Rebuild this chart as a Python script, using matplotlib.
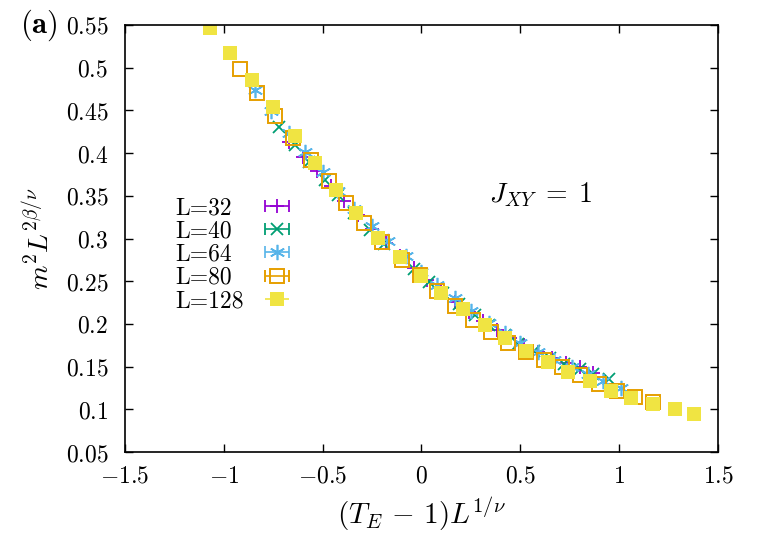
import numpy as np
import matplotlib
matplotlib.use('Agg')
import matplotlib.pyplot as plt
from matplotlib.ticker import FuncFormatter

plt.rcParams['mathtext.fontset'] = 'cm'
plt.rcParams['font.family'] = 'serif'
plt.rcParams['font.size'] = 15

# --- 資料 ---
x_32 = [-0.67, -0.60, -0.53, -0.46, -0.39, -0.32, -0.25, -0.18, -0.11, -0.04, 0.03, 0.10,
        0.17, 0.24, 0.31, 0.38, 0.45, 0.52, 0.59, 0.66, 0.73, 0.80, 0.87]
y_32 = [0.413, 0.396, 0.379, 0.361, 0.344, 0.327, 0.311, 0.295, 0.279, 0.265, 0.251, 0.239,
        0.226, 0.214, 0.203, 0.193, 0.184, 0.175, 0.167, 0.160, 0.154, 0.149, 0.143]

x_40 = [-0.72, -0.64, -0.57, -0.49, -0.42, -0.34, -0.26, -0.19, -0.11, -0.04, 0.04, 0.11,
        0.19, 0.27, 0.34, 0.42, 0.49, 0.57, 0.65, 0.72, 0.80, 0.87, 0.95]
y_40 = [0.431, 0.410, 0.390, 0.369, 0.351, 0.330, 0.310, 0.294, 0.278, 0.264, 0.249, 0.236,
        0.223, 0.210, 0.199, 0.187, 0.177, 0.168, 0.160, 0.153, 0.147, 0.141, 0.136]

x_64 = [-0.84, -0.76, -0.67, -0.59, -0.50, -0.42, -0.34, -0.25, -0.17, -0.08, 0.00, 0.08,
        0.17, 0.25, 0.34, 0.42, 0.50, 0.59, 0.67, 0.76, 0.84, 0.92, 1.01]
y_64 = [0.474, 0.449, 0.424, 0.401, 0.378, 0.356, 0.335, 0.315, 0.297, 0.279, 0.261, 0.245,
        0.230, 0.215, 0.201, 0.189, 0.178, 0.167, 0.158, 0.149, 0.141, 0.133, 0.125]

x_80 = [-0.92, -0.83, -0.74, -0.65, -0.56, -0.47, -0.38, -0.29, -0.20, -0.10, -0.01, 0.08,
        0.17, 0.26, 0.35, 0.44, 0.53, 0.62, 0.71, 0.80, 0.90, 0.99, 1.08, 1.17]
y_80 = [0.498, 0.470, 0.444, 0.418, 0.392, 0.367, 0.342, 0.318, 0.296, 0.275, 0.257, 0.238,
        0.221, 0.205, 0.191, 0.178, 0.167, 0.158, 0.150, 0.140, 0.130, 0.121, 0.114, 0.108]

x_128 = [-1.07, -0.97, -0.86, -0.75, -0.64, -0.54, -0.43, -0.33, -0.22, -0.11, 0.00, 0.10,
         0.21, 0.32, 0.42, 0.53, 0.64, 0.74, 0.85, 0.96, 1.06, 1.17, 1.28, 1.38]
y_128 = [0.546, 0.517, 0.486, 0.454, 0.420, 0.388, 0.357, 0.330, 0.301, 0.278, 0.256, 0.236,
         0.217, 0.199, 0.183, 0.168, 0.155, 0.144, 0.133, 0.122, 0.113, 0.106, 0.100, 0.094]

labels = ['L=32', 'L=40', 'L=64', 'L=80', 'L=128']
xticks = [-1.5, -1, -0.5, 0, 0.5, 1, 1.5]
yticks = [0.05, 0.1, 0.15, 0.2, 0.25, 0.3, 0.35, 0.4, 0.45, 0.5, 0.55]

# gnuplot 預設顏色
c_purple = '#9400d3'
c_green = '#009e73'
c_blue = '#56b4e9'
c_orange = '#e69f00'
c_yellow = '#f0e442'

star = (6, 2, 0)  # 星號 (+ 與 x 疊加)

fig = plt.figure(figsize=(7.64, 5.35), dpi=100)
ax = fig.add_axes([0.1636, 0.1551, 0.7762, 0.7982])

series = [
    (x_32, y_32, dict(marker='+', color=c_purple, ms=10, mew=1.3)),
    (x_40, y_40, dict(marker='x', color=c_green, ms=8, mew=1.3)),
    (x_64, y_64, dict(marker=star, color=c_blue, ms=11, mew=1.2)),
    (x_80, y_80, dict(marker='s', color=c_orange, ms=10, mew=1.4, mfc='none')),
    (x_128, y_128, dict(marker='s', color=c_yellow, ms=10.5, mew=0)),
]

handles = []
for (xs, ys, st), lab in zip(series, labels):
    ax.plot(xs, ys, ls='none', **st)
    # 圖例用的假誤差棒 (gnuplot 風格: 水平線 + 端點)
    h = ax.errorbar([np.nan], [np.nan], xerr=[1], ls='none', ecolor=st['color'],
                    elinewidth=1.2, capsize=4, capthick=1.2, **st)
    handles.append(h)

ax.set_xlim(-1.5, 1.5)
ax.set_ylim(0.05, 0.55)
ax.set_xticks(xticks)
ax.set_yticks(yticks)
fmt = FuncFormatter(lambda v, p: r'$%g$' % v)
ax.xaxis.set_major_formatter(fmt)
ax.yaxis.set_major_formatter(fmt)
ax.tick_params(direction='in', length=6, width=1, top=True, right=True, labelsize=17)
ax.tick_params(axis='y', pad=12)
ax.tick_params(axis='x', pad=9)
for s in ax.spines.values():
    s.set_linewidth(1.2)

ax.set_xlabel(r'$(T_E\,-\,1)L^{1/\nu}$', fontsize=21, labelpad=5)
ax.set_ylabel(r'$m^2L^{2\beta/\nu}$', fontsize=20, labelpad=8)

ax.text(0.60, 0.351, r'$J_{XY}\;=\;1$', fontsize=20, ha='center', va='center')
fig.text(0.026, 0.953, r'$(\mathbf{a})$', fontsize=22, ha='left', va='center')

leg = ax.legend(handles, labels, prop={'family': 'cmr10', 'size': 17},
                loc='upper left', bbox_to_anchor=(0.065, 0.625), frameon=False, markerfirst=False,
                handlelength=1.6, handletextpad=0.6, labelspacing=0.05, borderpad=0)

# 文字靠左對齊、符號對齊 (gnuplot 風格)
fig.canvas.draw()
rend = fig.canvas.get_renderer()
widths = [t.get_window_extent(rend).width for t in leg.get_texts()]
wmax = max(widths)
col = leg._legend_handle_box.get_children()[0]
for row, w in zip(col.get_children(), widths):
    row.sep += (wmax - w) * 72.0 / fig.dpi

fig.savefig('out.png', dpi=100)
